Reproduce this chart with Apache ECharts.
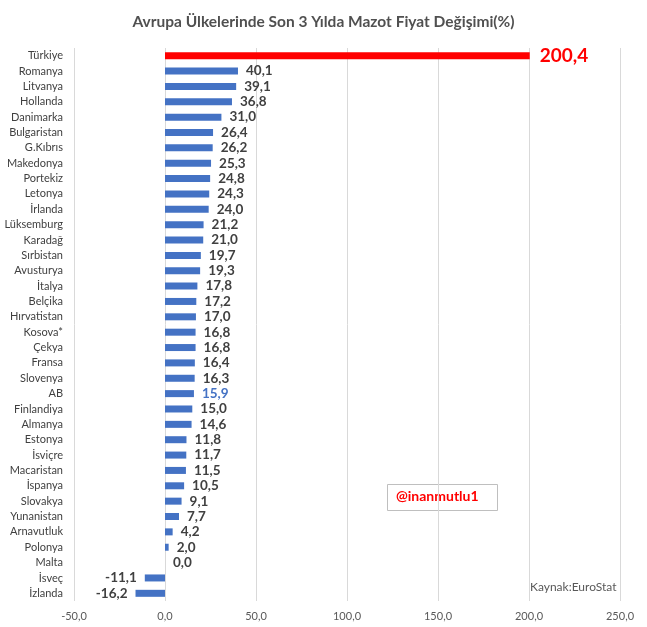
<!DOCTYPE html>
<html>
<head>
<meta charset="utf-8">
<script src="https://cdn.jsdelivr.net/npm/echarts@6/dist/echarts.min.js"></script>
<style>
  html, body { margin: 0; padding: 0; background: #fff; }
  #chart { width: 647px; height: 627px; }
</style>
</head>
<body>
<div id="chart"></div>
<script>
// ulkeler ve 3 yillik mazot fiyat degisimi (%)
var countries = ['Türkiye', 'Romanya', 'Litvanya', 'Hollanda', 'Danimarka', 'Bulgaristan', 'G.Kıbrıs',
    'Makedonya', 'Portekiz', 'Letonya', 'İrlanda', 'Lüksemburg', 'Karadağ', 'Sırbistan', 'Avusturya',
    'İtalya', 'Belçika', 'Hırvatistan', 'Kosova*', 'Çekya', 'Fransa', 'Slovenya', 'AB', 'Finlandiya',
    'Almanya', 'Estonya', 'İsviçre', 'Macaristan', 'İspanya', 'Slovakya', 'Yunanistan', 'Arnavutluk',
    'Polonya', 'Malta', 'İsveç', 'İzlanda'];
var changes = [200.4, 40.1, 39.1, 36.8, 31.0, 26.4, 26.2, 25.3, 24.8, 24.3, 24.0, 21.2, 21.0, 19.7, 19.3,
    17.8, 17.2, 17.0, 16.8, 16.8, 16.4, 16.3, 15.9, 15.0, 14.6, 11.8, 11.7, 11.5, 10.5, 9.1, 7.7, 4.2,
    2.0, 0.0, -11.1, -16.2];
var xTicks = [-50, 0, 50, 100, 150, 200, 250];

var fmt = function (v) { return v.toFixed(1).replace('.', ','); };

var data = [];
for (var i = 0; i < countries.length; i++) {
    var item = {
        value: changes[i],
        label: { position: changes[i] < 0 ? 'left' : 'right' }
    };
    if (countries[i] == 'Türkiye') {
        item.itemStyle = { color: '#ff0000' };
        item.label = { position: 'right', color: '#ff0000', fontSize: 19, distance: 10 };
    }
    if (countries[i] == 'AB') {
        item.label = { position: 'right', color: '#4472c4' };
    }
    data.push(item);
}

var option = {
    animation: false,
    textStyle: { fontFamily: 'Lato' },
    title: {
        text: 'Avrupa Ülkelerinde Son 3 Yılda Mazot Fiyat Değişimi(%)',
        left: 'center',
        top: 9,
        textStyle: { fontSize: 15.5, fontWeight: 'bold', color: '#505050', fontFamily: 'Lato' }
    },
    grid: { left: 74, right: 27, top: 48, bottom: 26 },
    xAxis: {
        type: 'value',
        min: -50,
        max: 250,
        interval: 50,
        axisLine: { show: false },
        axisTick: { show: false },
        axisLabel: {
            color: '#595959',
            fontSize: 11,
            margin: 10,
            formatter: function (v) { return xTicks.indexOf(v) >= 0 ? fmt(v) : ''; }
        },
        splitLine: { show: true, lineStyle: { color: '#d9d9d9', width: 1 } }
    },
    yAxis: {
        type: 'category',
        inverse: true,
        data: countries,
        axisLine: { show: false },
        axisTick: { show: false },
        axisLabel: { color: '#404040', fontSize: 11, margin: 11 }
    },
    series: [
        {
            type: 'bar',
            data: data,
            barWidth: 7,
            itemStyle: { color: '#4472c4' },
            label: {
                show: true,
                fontSize: 13.5,
                fontWeight: 'bold',
                color: '#404040',
                distance: 8,
                formatter: function (p) { return fmt(p.value); }
            }
        }
    ],
    graphic: [
        {
            type: 'rect',
            left: 387, top: 484,
            shape: { width: 110, height: 26 },
            style: { fill: '#fff', stroke: '#bfbfbf', lineWidth: 1 }
        },
        {
            type: 'text',
            left: 396, top: 489,
            style: { text: '@inanmutlu1', fill: '#ff0000', font: 'bold 14px Lato' }
        },
        {
            type: 'text',
            left: 530, top: 581,
            style: { text: 'Kaynak:EuroStat', fill: '#595959', font: '12px Lato' }
        }
    ]
};

var myChart = echarts.init(document.getElementById('chart'));
myChart.setOption(option);
</script>
</body>
</html>
